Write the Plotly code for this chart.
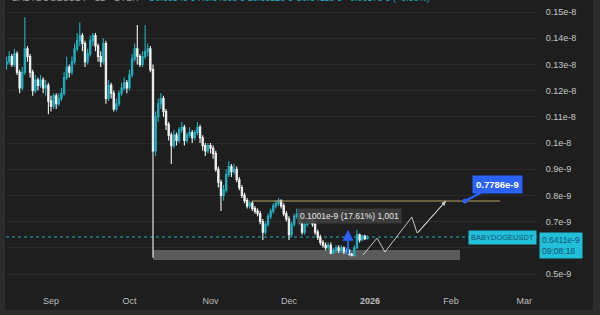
import plotly.graph_objects as go
import pandas as pd

SCALE = 1e-9  # prices below are in units of 1e-9

# ---- daily candles, 2025-08-15 .. 2025-12-31 (values in e-9) ----
dates = pd.date_range("2025-08-15", "2025-12-31", freq="D")

opens = [1.30, 1.31, 1.33, 1.30, 1.34, 1.27, 1.21, 1.27, 1.36, 1.33,
         1.27, 1.20, 1.24, 1.22, 1.24, 1.21, 1.22, 1.16, 1.14, 1.18,
         1.15, 1.17, 1.19, 1.25, 1.29, 1.27, 1.31, 1.36, 1.39, 1.41,
         1.38, 1.31, 1.34, 1.39, 1.41, 1.37, 1.33, 1.31, 1.38, 1.17,
         1.22, 1.19, 1.13, 1.15, 1.19, 1.21, 1.23, 1.21, 1.26, 1.32,
         1.36, 1.33, 1.30, 1.33, 1.35, 1.36, 1.28, 0.97, 1.10, 1.15,
         1.17, 1.12, 1.07, 1.03, 0.99, 1.03, 1.01, 1.05, 1.06, 1.01,
         1.03, 1.04, 1.02, 1.04, 1.06, 1.02, 0.99, 0.97, 0.99, 0.98,
         0.96, 0.90, 0.85, 0.80, 0.82, 0.88, 0.91, 0.89, 0.90, 0.86,
         0.83, 0.80, 0.78, 0.76, 0.77, 0.75, 0.74, 0.73, 0.70, 0.66,
         0.69, 0.72, 0.74, 0.76, 0.77, 0.78, 0.76, 0.73, 0.71, 0.65,
         0.69, 0.72, 0.73, 0.70, 0.66, 0.69, 0.70, 0.71, 0.69, 0.66,
         0.64, 0.62, 0.61, 0.60, 0.61, 0.58, 0.59, 0.60, 0.59, 0.60,
         0.585, 0.59, 0.575, 0.57, 0.60, 0.65, 0.63, 0.645, 0.635]
closes = [1.31, 1.33, 1.30, 1.34, 1.27, 1.21, 1.27, 1.36, 1.33, 1.27,
          1.20, 1.24, 1.22, 1.24, 1.21, 1.22, 1.16, 1.14, 1.18, 1.15,
          1.17, 1.19, 1.25, 1.29, 1.27, 1.31, 1.36, 1.39, 1.41, 1.38,
          1.31, 1.34, 1.39, 1.41, 1.37, 1.33, 1.31, 1.38, 1.17, 1.22,
          1.19, 1.13, 1.15, 1.19, 1.21, 1.23, 1.21, 1.26, 1.32, 1.36,
          1.33, 1.30, 1.33, 1.35, 1.36, 1.28, 0.97, 1.10, 1.15, 1.17,
          1.12, 1.07, 1.03, 0.99, 1.03, 1.01, 1.05, 1.06, 1.01, 1.03,
          1.04, 1.02, 1.04, 1.06, 1.02, 0.99, 0.97, 0.99, 0.98, 0.96,
          0.90, 0.85, 0.80, 0.82, 0.88, 0.91, 0.89, 0.90, 0.86, 0.83,
          0.80, 0.78, 0.76, 0.77, 0.75, 0.74, 0.73, 0.70, 0.66, 0.69,
          0.72, 0.74, 0.76, 0.77, 0.78, 0.76, 0.73, 0.71, 0.65, 0.69,
          0.72, 0.73, 0.70, 0.66, 0.69, 0.70, 0.71, 0.69, 0.66, 0.64,
          0.62, 0.61, 0.60, 0.61, 0.58, 0.59, 0.60, 0.59, 0.60, 0.585,
          0.59, 0.575, 0.57, 0.60, 0.65, 0.63, 0.645, 0.635, 0.6411]
highs = [1.33, 1.35, 1.34, 1.36, 1.35, 1.28, 1.29, 1.48, 1.37, 1.34,
         1.28, 1.26, 1.25, 1.26, 1.25, 1.24, 1.23, 1.18, 1.19, 1.19,
         1.19, 1.21, 1.27, 1.33, 1.30, 1.33, 1.38, 1.42, 1.46, 1.42,
         1.39, 1.36, 1.41, 1.42, 1.42, 1.38, 1.35, 1.40, 1.39, 1.24,
         1.23, 1.20, 1.17, 1.20, 1.23, 1.25, 1.24, 1.28, 1.34, 1.38,
         1.45, 1.34, 1.35, 1.45, 1.38, 1.37, 1.30, 1.12, 1.17, 1.19,
         1.18, 1.13, 1.08, 1.04, 1.05, 1.04, 1.06, 1.08, 1.07, 1.04,
         1.06, 1.05, 1.05, 1.08, 1.07, 1.03, 1.00, 1.00, 1.00, 0.99,
         0.97, 0.91, 0.86, 0.84, 0.90, 0.93, 0.92, 0.92, 0.91, 0.87,
         0.84, 0.81, 0.79, 0.78, 0.78, 0.76, 0.75, 0.74, 0.71, 0.70,
         0.73, 0.75, 0.77, 0.78, 0.79, 0.785, 0.77, 0.74, 0.72, 0.70,
         0.73, 0.75, 0.74, 0.71, 0.70, 0.71, 0.72, 0.72, 0.70, 0.67,
         0.65, 0.63, 0.62, 0.62, 0.62, 0.60, 0.61, 0.61, 0.61, 0.605,
         0.60, 0.595, 0.58, 0.61, 0.6685, 0.655, 0.65, 0.65, 0.648]
lows = [1.28, 1.30, 1.29, 1.29, 1.26, 1.19, 1.20, 1.26, 1.31, 1.25,
        1.18, 1.19, 1.20, 1.21, 1.19, 1.18, 1.11, 1.12, 1.13, 1.13,
        1.14, 1.16, 1.18, 1.24, 1.25, 1.26, 1.30, 1.35, 1.37, 1.35,
        1.29, 1.30, 1.33, 1.37, 1.35, 1.31, 1.29, 1.30, 1.15, 1.16,
        1.17, 1.12, 1.12, 1.14, 1.18, 1.20, 1.19, 1.20, 1.25, 1.31,
        1.30, 1.29, 1.29, 1.32, 1.33, 1.27, 0.562, 0.95, 1.08, 1.13,
        1.10, 1.05, 1.01, 0.92, 0.98, 0.99, 1.00, 1.04, 0.99, 1.00,
        1.02, 1.00, 1.01, 1.03, 1.00, 0.97, 0.95, 0.96, 0.96, 0.94,
        0.89, 0.83, 0.74, 0.78, 0.81, 0.87, 0.87, 0.88, 0.85, 0.82,
        0.79, 0.77, 0.75, 0.75, 0.74, 0.73, 0.72, 0.69, 0.63, 0.65,
        0.68, 0.71, 0.73, 0.75, 0.76, 0.75, 0.72, 0.70, 0.63, 0.64,
        0.68, 0.71, 0.69, 0.65, 0.65, 0.68, 0.69, 0.68, 0.65, 0.63,
        0.61, 0.60, 0.59, 0.59, 0.575, 0.575, 0.58, 0.58, 0.58, 0.575,
        0.575, 0.57, 0.5684, 0.5684, 0.595, 0.62, 0.625, 0.63, 0.632]

# ---- drawings ----
last_price = 0.6411
target_price = 0.7786
target_line_dates = ["2025-11-17 06:00", "2026-02-19 17:00"]
target_dot_date = "2026-02-06 07:00"
support_box_dates = ["2025-10-10", "2026-02-04 10:00"]
support_box_prices = [0.5534, 0.5916]
proj_dates = ["2025-12-29 07:00", "2026-01-03 17:00", "2026-01-06 17:00",
              "2026-01-17", "2026-01-19", "2026-01-30"]
proj_prices = [0.5725, 0.637, 0.584, 0.7176, 0.6565, 0.7786]
measure_date = "2025-12-23 14:00"
measure_from, measure_to = 0.5684, 0.6685
measure_label = "0.1001e-9 (17.61%) 1,001"
measure_label_date = "2025-12-24 00:00"
measure_label_price = 0.7214

month_ticks = ["2025-09-01", "2025-10-01", "2025-11-01", "2025-12-01",
               "2026-01-01", "2026-02-01", "2026-03-01"]
month_labels = ["Sep", "Oct", "Nov", "Dec", "<b>2026</b>", "Feb", "Mar"]
price_ticks = [0.5, 0.6, 0.7, 0.8, 0.9, 1.0, 1.1, 1.2, 1.3, 1.4, 1.5]
# 0.6e-9 is hidden behind the last-price label in the reference
price_labels = ["0.5e-9", "", "0.7e-9", "0.8e-9", "0.9e-9", "0.1e-8",
                "0.11e-8", "0.12e-8", "0.13e-8", "0.14e-8", "0.15e-8"]

UP = "#22aebf"
DOWN = "#f2f2f2"
BG = "#1e1e1e"
FRAME = "#2c2c2c"
BLUE = "#2962ff"
CYAN = "#21c0d8"
FONT = "Liberation Sans"

def s(v):
    return [x * SCALE for x in v]

fig = go.Figure()

fig.add_trace(go.Candlestick(
    x=dates, open=s(opens), high=s(highs), low=s(lows), close=s(closes),
    increasing=dict(line=dict(color=UP, width=1.1), fillcolor=UP),
    decreasing=dict(line=dict(color=DOWN, width=1.1), fillcolor=DOWN),
    whiskerwidth=0, showlegend=False, hoverinfo="skip"))

# target level line
fig.add_trace(go.Scatter(x=target_line_dates, y=s([target_price, target_price]),
                         mode="lines", line=dict(color="#b8a35c", width=1),
                         showlegend=False, hoverinfo="skip"))
# projection zigzag
fig.add_trace(go.Scatter(x=proj_dates, y=s(proj_prices), mode="lines",
                         line=dict(color="rgba(225,225,225,0.85)", width=1),
                         showlegend=False, hoverinfo="skip"))
# target dot
fig.add_trace(go.Scatter(x=[target_dot_date], y=s([target_price]), mode="markers",
                         marker=dict(color=BLUE, size=5), showlegend=False,
                         hoverinfo="skip"))

# layout geometry: plot area x 6..537, y 0..287
x_start = pd.Timestamp("2025-09-01") - pd.Timedelta(days=17.21)
x_end = x_start + pd.Timedelta(days=531 / 2.615)
y_lo = 0.5 - 13 / 262
y_hi = 1.5 + 12 / 262

shapes = [
    dict(type="rect", xref="x", yref="y", x0=support_box_dates[0], x1=support_box_dates[1],
         y0=support_box_prices[0] * SCALE, y1=support_box_prices[1] * SCALE,
         fillcolor="rgba(140,140,140,0.55)", line=dict(width=0), layer="below"),
    dict(type="line", xref="paper", yref="y", x0=0, x1=1,
         y0=last_price * SCALE, y1=last_price * SCALE,
         line=dict(color=UP, width=1, dash="dot"), layer="below"),
    # outer frame strips
    dict(type="rect", xref="paper", yref="paper", x0=-6 / 531, x1=-1 / 531, y0=-1, y1=2,
         fillcolor=FRAME, line=dict(width=0), layer="above"),
    dict(type="rect", xref="paper", yref="paper", x0=(593 - 6) / 531, x1=(601 - 6) / 531,
         y0=-1, y1=2, fillcolor=FRAME, line=dict(width=0), layer="above"),
    dict(type="rect", xref="paper", yref="paper", x0=-0.1, x1=1.2,
         y0=(287 - 316) / 287, y1=(287 - 310) / 287,
         fillcolor=FRAME, line=dict(width=0), layer="above"),
]

annotations = [
    # header (cut off at top, as in the reference)
    dict(xref="paper", yref="paper", x=(10 - 6) / 531, y=(287 + 2) / 287,
         xanchor="left", yanchor="middle", showarrow=False,
         text='<span style="color:#9a9a9a">BABYDOGEUSDT · 1D · BYBIT · </span>'
              '<span style="color:#22aebf">O0.6354e-9 H0.6480e-9 L0.6322e-9 C0.6411e-9 +0.0057e-9 (+0.90%)</span>',
         font=dict(family=FONT, size=9)),
    # target label
    dict(x=target_dot_date, y=target_price * SCALE, xref="x", yref="y",
         text="<b>0.7786e-9</b>", showarrow=True, ax=33, ay=-17,
         arrowhead=0, arrowwidth=2.5, arrowcolor=BLUE, bgcolor=BLUE,
         borderpad=3, font=dict(family=FONT, size=9.5, color="white")),
    # projection arrow head
    dict(x=proj_dates[-1], y=proj_prices[-1] * SCALE, xref="x", yref="y",
         text="", showarrow=True, ax=-29, ay=33, arrowhead=2, arrowsize=0.9,
         arrowwidth=1, arrowcolor="rgba(225,225,225,0.85)"),
    # measure arrow
    dict(x=measure_date, y=measure_to * SCALE, xref="x", yref="y",
         text="", showarrow=True, ax=0, ay=(measure_to - measure_from) * 262,
         arrowhead=2, arrowsize=1.1, arrowwidth=2, arrowcolor=BLUE),
    # measure label
    dict(x=measure_label_date, y=measure_label_price * SCALE, xref="x", yref="y",
         text=measure_label, showarrow=False, bgcolor="rgba(62,62,62,0.9)",
         borderpad=2, font=dict(family=FONT, size=8.5, color="#e6e6e6")),
    # symbol label
    dict(xref="paper", yref="y", x=1, y=last_price * SCALE, xanchor="right",
         yanchor="middle", text="BABYDOGEUSDT", showarrow=False, bgcolor=CYAN,
         borderpad=2, font=dict(family=FONT, size=7.5, color="#15507a")),
    # price scale label
    dict(xref="paper", yref="y", x=(539 - 6) / 531,
         y=(0.5 + (274 - 232) / 262) * SCALE, xanchor="left", yanchor="top",
         align="left", text="0.6411e-9<br>09:08:18", showarrow=False,
         bgcolor=CYAN, borderpad=2, font=dict(family=FONT, size=8.5, color="#15507a")),
]

fig.update_layout(
    width=600, height=315,
    margin=dict(l=6, r=63, t=0, b=28),
    paper_bgcolor=BG, plot_bgcolor=BG,
    font=dict(family=FONT, size=9, color="#c4c4c4"),
    showlegend=False,
    shapes=shapes, annotations=annotations,
    xaxis=dict(type="date", range=[x_start, x_end], tickvals=month_ticks,
               ticktext=month_labels, showgrid=False, zeroline=False,
               rangeslider=dict(visible=False), ticks="outside", ticklen=5,
               tickcolor="rgba(0,0,0,0)", tickfont=dict(size=9, color="#bdbdbd"),
               showline=False, fixedrange=True),
    yaxis=dict(side="right", range=[y_lo * SCALE, y_hi * SCALE],
               tickvals=s(price_ticks), ticktext=price_labels,
               showgrid=True, gridcolor="#2a2a2a", gridwidth=1, zeroline=False,
               ticks="outside", ticklen=6, tickcolor="rgba(0,0,0,0)",
               tickfont=dict(size=9, color="#c8c8c8"), showline=False, fixedrange=True),
)

fig.write_html("out.html")
